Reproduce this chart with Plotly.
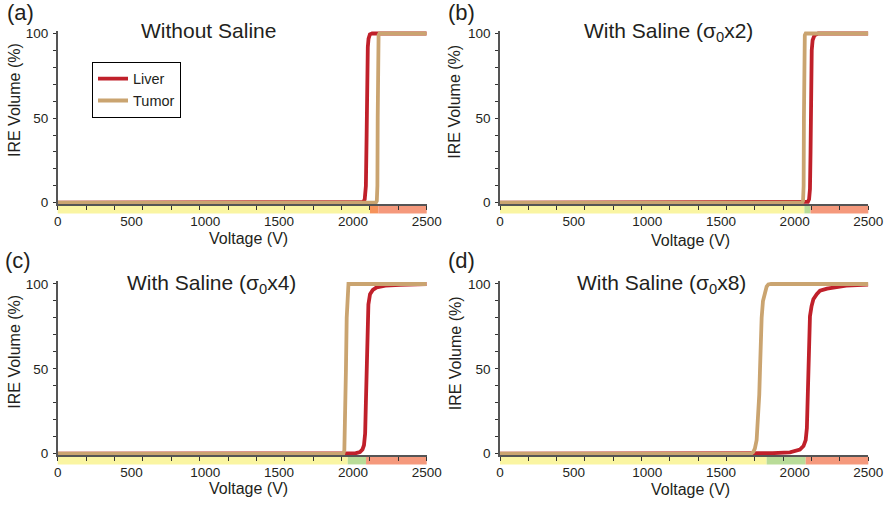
import plotly.graph_objects as go

# ---------------- data ----------------
X_MAX = 2500
x_tick_vals = [0, 500, 1000, 1500, 2000, 2500]
x_tick_text = ["0", "500", "1000", "1500", "2000", "2500"]
y_tick_vals = [0, 50, 100]
y_tick_text = ["0", "50", "100"]

panel_letters = ["(a)", "(b)", "(c)", "(d)"]
panel_titles = ["Without Saline",
                "With Saline (σ<sub>0</sub>x2)",
                "With Saline (σ<sub>0</sub>x4)",
                "With Saline (σ<sub>0</sub>x8)"]
series_names = ["Liver", "Tumor"]

# (a) without saline
liver_a_v = [0, 2050, 2071, 2080, 2088, 2093, 2097, 2101, 2106, 2115, 2130, 2500]
liver_a_pct = [0, 0, 0.5, 2, 10, 40, 75, 92, 97, 99.5, 100, 100]
tumor_a_v = [0, 2155, 2162, 2166, 2168, 2170, 2174, 2180, 2500]
tumor_a_pct = [0, 0, 1, 10, 50, 90, 99, 100, 100]

# (b) saline sigma0 x2
liver_b_v = [0, 2080, 2090, 2098, 2104, 2108, 2112, 2116, 2122, 2135, 2160, 2500]
liver_b_pct = [0, 0, 0.5, 2, 8, 30, 70, 90, 96, 99, 100, 100]
tumor_b_v = [0, 2050, 2057, 2061, 2063, 2065, 2069, 2075, 2500]
tumor_b_pct = [0, 0, 1, 10, 50, 90, 99, 100, 100]

# (c) saline sigma0 x4
liver_c_v = [0, 1960, 2020, 2048, 2065, 2075, 2083, 2088, 2093, 2098, 2105, 2116, 2135,
             2161, 2220, 2320, 2500]
liver_c_pct = [0, 0, 0.3, 1, 2.5, 5, 12, 30, 55, 78, 88, 94, 96.5, 98, 99, 99.5, 100]
tumor_c_v = [0, 1935, 1942, 1948, 1953, 1958, 1963, 1970, 2500]
tumor_c_pct = [0, 0, 2, 20, 50, 80, 97, 100, 100]

# (d) saline sigma0 x8
liver_d_v = [0, 1730, 1850, 1968, 2036, 2060, 2075, 2083, 2088, 2093, 2098, 2104, 2115,
             2127, 2150, 2172, 2220, 2262, 2350, 2500]
liver_d_pct = [0, 0, 0.3, 0.8, 2.4, 4.5, 8, 15, 30, 50, 70, 81, 87, 91, 94, 96, 97.3,
               98, 99, 99.7]
tumor_d_v = [0, 1705, 1719, 1730, 1742, 1752, 1760, 1765, 1770, 1776, 1785, 1799, 1810,
             1821, 1840, 2500]
tumor_d_pct = [0, 0, 1, 3, 8, 20, 35, 50, 65, 80, 90, 96, 98.5, 99.7, 100, 100]

# treatment-zone bands under each axis: edges (V) and zone kind
band_a_edges = [0, 2116, 2172, 2500]
band_a_kind = ["ire_tumor_none", "overlap", "liver_damage"]
band_b_edges = [0, 2066, 2108, 2500]
band_b_kind = ["ire_tumor_none", "safe", "liver_damage"]
band_c_edges = [0, 1965, 2089, 2500]
band_c_kind = ["ire_tumor_none", "safe", "liver_damage"]
band_d_edges = [0, 1810, 2075, 2500]
band_d_kind = ["ire_tumor_none", "safe", "liver_damage"]

# ---------------- styling ----------------
W, H = 887, 505
FONT = "Liberation Sans"
TXT = "#231f20"
LIVER_COLOR = "#c0202a"
TUMOR_COLOR = "#caa470"
AXIS_COLOR = "#555555"
BAND_COLORS = {"ire_tumor_none": "#faf5a2", "safe": "#b9dc98",
               "overlap": "#f6925a", "liver_damage": "#f5997c"}

# subplot pixel geometry (left, right, top, bottom of plot area)
x_dom_left = [57.7 / W, 426.7 / W]
x_dom_right = [500 / W, 868.3 / W]
y_dom_top = [0.5959, 0.9387]
y_dom_bot = [0.0989, 0.4427]
Y_RANGE = [-0.8, 101.5]

panels = [
    (liver_a_v, liver_a_pct, tumor_a_v, tumor_a_pct, band_a_edges, band_a_kind, x_dom_left, y_dom_top),
    (liver_b_v, liver_b_pct, tumor_b_v, tumor_b_pct, band_b_edges, band_b_kind, x_dom_right, y_dom_top),
    (liver_c_v, liver_c_pct, tumor_c_v, tumor_c_pct, band_c_edges, band_c_kind, x_dom_left, y_dom_bot),
    (liver_d_v, liver_d_pct, tumor_d_v, tumor_d_pct, band_d_edges, band_d_kind, x_dom_right, y_dom_bot),
]

# text positions in pixels
letter_pos = [(20, 12.5), (461, 12.5), (18.3, 260), (461, 260)]
title_pos = [(208, 30.5), (668.3, 31.5), (211.7, 283.5), (661.7, 283.5)]
xlabel_pos = [(248.3, 238), (690.8, 240), (248.3, 488), (690.8, 489)]
ylabel_pos = [(15, 100), (455, 101.7), (15, 351.7), (455, 353.3)]

fig = go.Figure()
layout = dict(
    width=W, height=H,
    margin=dict(l=0, r=0, t=0, b=0, pad=0, autoexpand=False),
    paper_bgcolor="white", plot_bgcolor="white",
    font=dict(family=FONT, color=TXT),
    showlegend=True,
    legend=dict(x=92 / W, y=1 - 61.7 / H, xanchor="left", yanchor="top",
                bordercolor="#000000", borderwidth=1, bgcolor="white",
                font=dict(size=14.5, family=FONT, color=TXT),
                itemwidth=30, tracegroupgap=0),
)
shapes = []
annotations = []

minor_x = [X_MAX * k / 13 for k in range(14)]

for i, (lv, lp, tv, tp, edges, kinds, xd, yd) in enumerate(panels):
    n = "" if i == 0 else str(i + 1)
    xa, ya = "x" + n, "y" + n
    fig.add_trace(go.Scatter(x=lv, y=lp, mode="lines", name=series_names[0],
                             line=dict(color=LIVER_COLOR, width=3.8),
                             showlegend=(i == 0), xaxis=xa, yaxis=ya))
    fig.add_trace(go.Scatter(x=tv, y=tp, mode="lines", name=series_names[1],
                             line=dict(color=TUMOR_COLOR, width=3.8),
                             showlegend=(i == 0), xaxis=xa, yaxis=ya))
    layout["xaxis" + n] = dict(
        domain=xd, anchor=ya, range=[0, X_MAX], fixedrange=True,
        showgrid=False, zeroline=False, automargin=False,
        showline=True, linecolor=AXIS_COLOR, linewidth=2,
        tickmode="array", tickvals=x_tick_vals, ticktext=x_tick_text,
        ticks="", ticklabelstandoff=4,
        tickfont=dict(size=13.5, family=FONT, color=TXT),
        minor=dict(tickmode="array", tickvals=minor_x, ticks="outside",
                   ticklen=4, tickwidth=1.2, tickcolor="#333333", showgrid=False),
    )
    layout["yaxis" + n] = dict(
        domain=yd, anchor=xa, range=Y_RANGE, fixedrange=True,
        showgrid=False, zeroline=False, automargin=False,
        showline=True, linecolor=AXIS_COLOR, linewidth=1.5,
        tickmode="array", tickvals=y_tick_vals, ticktext=y_tick_text,
        ticks="outside", ticklen=3, tickwidth=1.2, tickcolor="#333333",
        ticklabelstandoff=2,
        tickfont=dict(size=13.5, family=FONT, color=TXT),
        minor=dict(dtick=10, tick0=0, ticks="outside", ticklen=3, tickwidth=1,
                   tickcolor="#333333", showgrid=False),
    )
    for k, kind in enumerate(kinds):
        shapes.append(dict(type="rect", xref=xa + " domain", yref=ya + " domain",
                           x0=edges[k] / X_MAX, x1=edges[k + 1] / X_MAX,
                           y0=-0.054, y1=-0.006, layer="below",
                           line=dict(width=0), fillcolor=BAND_COLORS[kind]))
    px, py = letter_pos[i]
    annotations.append(dict(text=panel_letters[i], x=px / W, y=1 - py / H, xref="paper", yref="paper",
                            showarrow=False, xanchor="center", yanchor="middle",
                            font=dict(size=22, family=FONT, color=TXT)))
    px, py = title_pos[i]
    annotations.append(dict(text=panel_titles[i], x=px / W, y=1 - py / H, xref="paper", yref="paper",
                            showarrow=False, xanchor="center", yanchor="middle",
                            font=dict(size=21, family=FONT, color=TXT)))
    px, py = xlabel_pos[i]
    annotations.append(dict(text="Voltage (V)", x=px / W, y=1 - py / H, xref="paper", yref="paper",
                            showarrow=False, xanchor="center", yanchor="middle",
                            font=dict(size=16, family=FONT, color=TXT)))
    px, py = ylabel_pos[i]
    annotations.append(dict(text="IRE Volume (%)", x=px / W, y=1 - py / H, xref="paper", yref="paper",
                            showarrow=False, xanchor="center", yanchor="middle", textangle=-90,
                            font=dict(size=16, family=FONT, color=TXT)))

layout["shapes"] = shapes
layout["annotations"] = annotations
fig.update_layout(**layout)
fig.write_html("out.html")
